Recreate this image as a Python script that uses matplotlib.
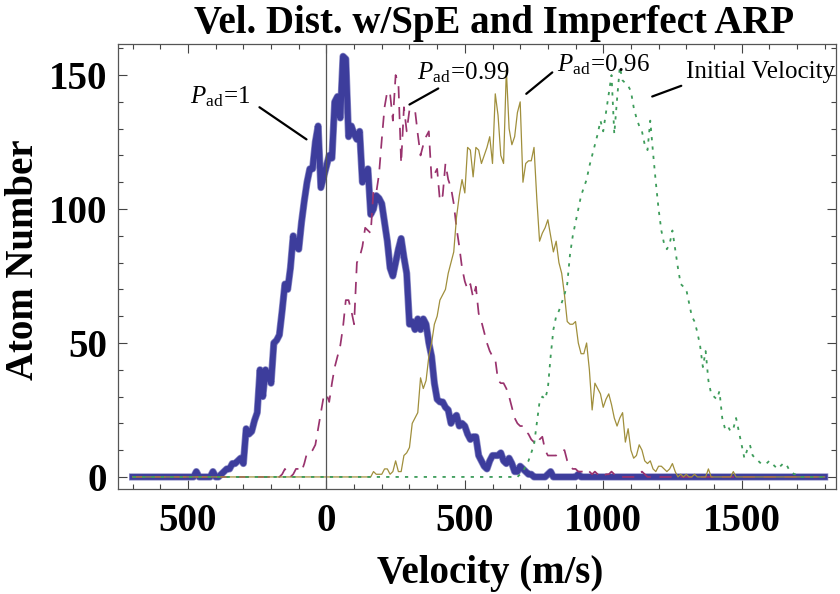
import numpy as np
import matplotlib
matplotlib.use("Agg")
import matplotlib.pyplot as plt
import matplotlib.patheffects as pe
from matplotlib.ticker import MultipleLocator, FixedLocator, FixedFormatter

plt.rcParams['font.family'] = ['Liberation Serif', 'DejaVu Serif']
plt.rcParams['mathtext.fontset'] = 'custom'
plt.rcParams['mathtext.rm'] = 'Liberation Serif'
plt.rcParams['mathtext.it'] = 'Liberation Serif:italic'

# velocity grid (m/s), 10 m/s bins
velocity = np.arange(-700, 1801, 10)

# P_ad = 1, counts starting at -480 m/s
p1_start = -480
p1_counts = [0, 2, 0, 0, 0, 0, 0, 2, 0, 0,
             1, 2, 3, 3, 5, 5, 6, 7, 5, 18,
             16, 17, 21, 24, 40, 30, 40, 38, 35, 50,
             51, 53, 62, 72, 70, 78, 90, 86, 85, 95,
             103, 110, 115, 115, 125, 131, 108, 112, 116, 120,
             119, 140, 142, 134, 157, 156, 127, 131, 128, 126,
             129, 110, 113, 115, 98, 100, 105, 104, 102, 95,
             88, 78, 75, 80, 85, 89, 82, 76, 57, 58,
             55, 59, 55, 59, 57, 50, 45, 35, 29, 28,
             28, 26, 25, 20, 22, 23, 19, 20, 19, 16,
             14, 15, 15, 8, 6, 4, 3, 6, 8, 8,
             8, 9, 6, 5, 7, 5, 2, 2, 4, 3,
             2, 1, 1, 0, 0, 0, 0, 0, 1, 2,
             0, 0, 0, 0, 0, 0, 0, 0, 0, 1, 0]

# P_ad = 0.99, counts starting at -170 m/s
p99_start = -170
p99_counts = [0, 1, 3, 1, 0, 1, 3, 3, 2, 5,
              9, 9, 10, 12, 18, 24, 30, 31, 28, 35,
              41, 45, 49, 56, 66, 66, 62, 57, 80, 82,
              86, 93, 92, 91, 107, 106, 113, 126, 138, 144,
              143, 133, 150, 147, 117, 138, 129, 137, 137, 137,
              128, 120, 124, 127, 129, 111, 113, 115, 103, 105,
              117, 111, 108, 102, 93, 86, 78, 73, 70, 72,
              67, 71, 61, 58, 54, 50, 47, 45, 44, 36,
              35, 35, 33, 30, 26, 22, 20, 19, 19, 17,
              16, 14, 13, 12, 14, 15, 10, 8, 8, 8,
              8, 9, 10, 10, 6, 4, 3, 3, 2, 2,
              2, 3, 2, 1, 2, 1, 0, 0, 1, 1,
              2, 1, 1, 0, 0, 0, 0, 0, 0, 0,
              1, 2, 1, 0]

# P_ad = 0.96, counts starting at 160 m/s
p96_start = 160
p96_counts = [0, 2, 1, 1, 1, 3, 3, 1, 2, 6,
              2, 2, 8, 9, 11, 20, 22, 24, 37, 33,
              36, 45, 50, 57, 60, 66, 68, 70, 76, 80,
              84, 97, 105, 111, 106, 123, 122, 112, 123, 122,
              117, 120, 123, 127, 117, 143, 135, 120, 117, 152,
              130, 124, 127, 136, 140, 110, 117, 118, 118, 123,
              104, 88, 91, 93, 96, 90, 84, 88, 80, 76,
              68, 58, 57, 57, 58, 50, 46, 46, 50, 40,
              25, 35, 33, 31, 26, 29, 31, 27, 22, 19,
              22, 24, 13, 18, 10, 7, 8, 12, 10, 6,
              5, 6, 3, 2, 4, 4, 3, 2, 3, 5,
              2, 0, 1, 0, 1, 0, 0, 1, 0, 0,
              0, 0, 3, 0, 0, 0, 0, 0, 0, 0,
              0, 2, 0]

# initial velocity distribution, counts starting at 690 m/s
init_start = 690
init_counts = [0, 1, 2, 4, 6, 9, 12, 20, 28, 30,
               29, 33, 45, 55, 60, 62, 65, 68, 72, 83,
               90, 95, 100, 105, 108, 111, 116, 120, 124, 128,
               133, 129, 136, 143, 150, 128, 141, 153, 148, 147,
               146, 144, 138, 134, 131, 129, 124, 122, 133, 121,
               110, 100, 92, 87, 85, 87, 92, 85, 78, 72,
               71, 70, 65, 60, 58, 54, 49, 41, 47, 36,
               31, 30, 29, 32, 22, 18, 19, 17, 18, 22,
               17, 12, 7, 10, 12, 8, 7, 6, 5, 5,
               5, 6, 5, 4, 3, 4, 5, 5, 3, 2,
               1, 1, 0]

xtick_vals = [-500, 0, 500, 1000, 1500]
xtick_labels = ['500', '0', '500', '1000', '1500']
ytick_vals = [0, 50, 100, 150]


def full_series(start, counts):
    y = np.zeros(len(velocity))
    i0 = int(np.searchsorted(velocity, start))
    y[i0:i0 + len(counts)] = counts
    return y


fig = plt.figure(figsize=(8.4, 5.94), dpi=100)
ax = fig.add_axes([118 / 840, 1 - 489 / 594, 718 / 840, 445 / 594])

ax.plot(velocity, full_series(p1_start, p1_counts), color='#3d3d9c', lw=4.2,
        solid_joinstyle='round',
        path_effects=[pe.Stroke(linewidth=5.2, foreground='#8c8cc6', joinstyle='round'),
                      pe.Normal()])
ax.plot(velocity, full_series(p99_start, p99_counts), color='#99336e', lw=1.25,
        dashes=(7, 5))
ax.plot(velocity, full_series(p96_start, p96_counts), color='#a08f3c', lw=0.9)
ax.plot(velocity, full_series(init_start, init_counts), color='#3d9c5a', lw=1.3,
        dashes=(1.8, 3.4))

ax.axvline(0, color='#555555', lw=0.9, zorder=5)

ax.set_xlim(-753, 1841)
ax.set_ylim(-4.5, 161.6)

ax.xaxis.set_major_locator(FixedLocator(xtick_vals))
ax.xaxis.set_major_formatter(FixedFormatter(xtick_labels))
ax.xaxis.set_minor_locator(MultipleLocator(100))
ax.yaxis.set_major_locator(FixedLocator(ytick_vals))
ax.yaxis.set_minor_locator(MultipleLocator(10))
ax.tick_params(which='both', direction='in', top=True, right=True,
               color='#444444', width=0.8)
ax.tick_params(which='major', length=6.3)
ax.tick_params(which='minor', length=3.6)
ax.tick_params(axis='x', which='major', pad=10, labelsize=28)
ax.tick_params(axis='y', which='major', pad=8, labelsize=28)
for lab in ax.get_xticklabels() + ax.get_yticklabels():
    lab.set_fontweight('bold')
for s in ax.spines.values():
    s.set_color('#555555')
    s.set_linewidth(0.9)

ax.set_xlabel('Velocity (m/s)', fontsize=28, fontweight='bold', va='center')
ax.xaxis.set_label_coords(0.518, -0.191)
ax.set_ylabel('Atom Number', fontsize=28, fontweight='bold', va='center')
ax.yaxis.set_label_coords(-0.132, 0.515)
ax.text(0.524, 1.046, 'Vel. Dist. w/SpE and Imperfect ARP', transform=ax.transAxes,
        ha='center', va='center', fontsize=28, fontweight='bold')

# curve labels with leader lines
labels = [(r'$P_{\rm ad}\!=\!1$', (-383, 142), (-242, 138), (-72, 126)),
          (r'$P_{\rm ad}\!=\!0.99$', (494, 151), (404, 145), (300, 139)),
          (r'$P_{\rm ad}\!=\!0.96$', (1000, 154), (816, 151), (722, 143)),
          ('Initial Velocity', (1567, 151), (1282, 146), (1177, 142))]
for text, pos, l0, l1 in labels:
    ax.text(pos[0], pos[1], text, ha='center', va='center', fontsize=18, zorder=6)
    ax.annotate('', xy=l1, xytext=l0,
                arrowprops=dict(arrowstyle='-', color='black', lw=1.6,
                                shrinkA=0, shrinkB=0))

fig.savefig('out.png', dpi=100)
